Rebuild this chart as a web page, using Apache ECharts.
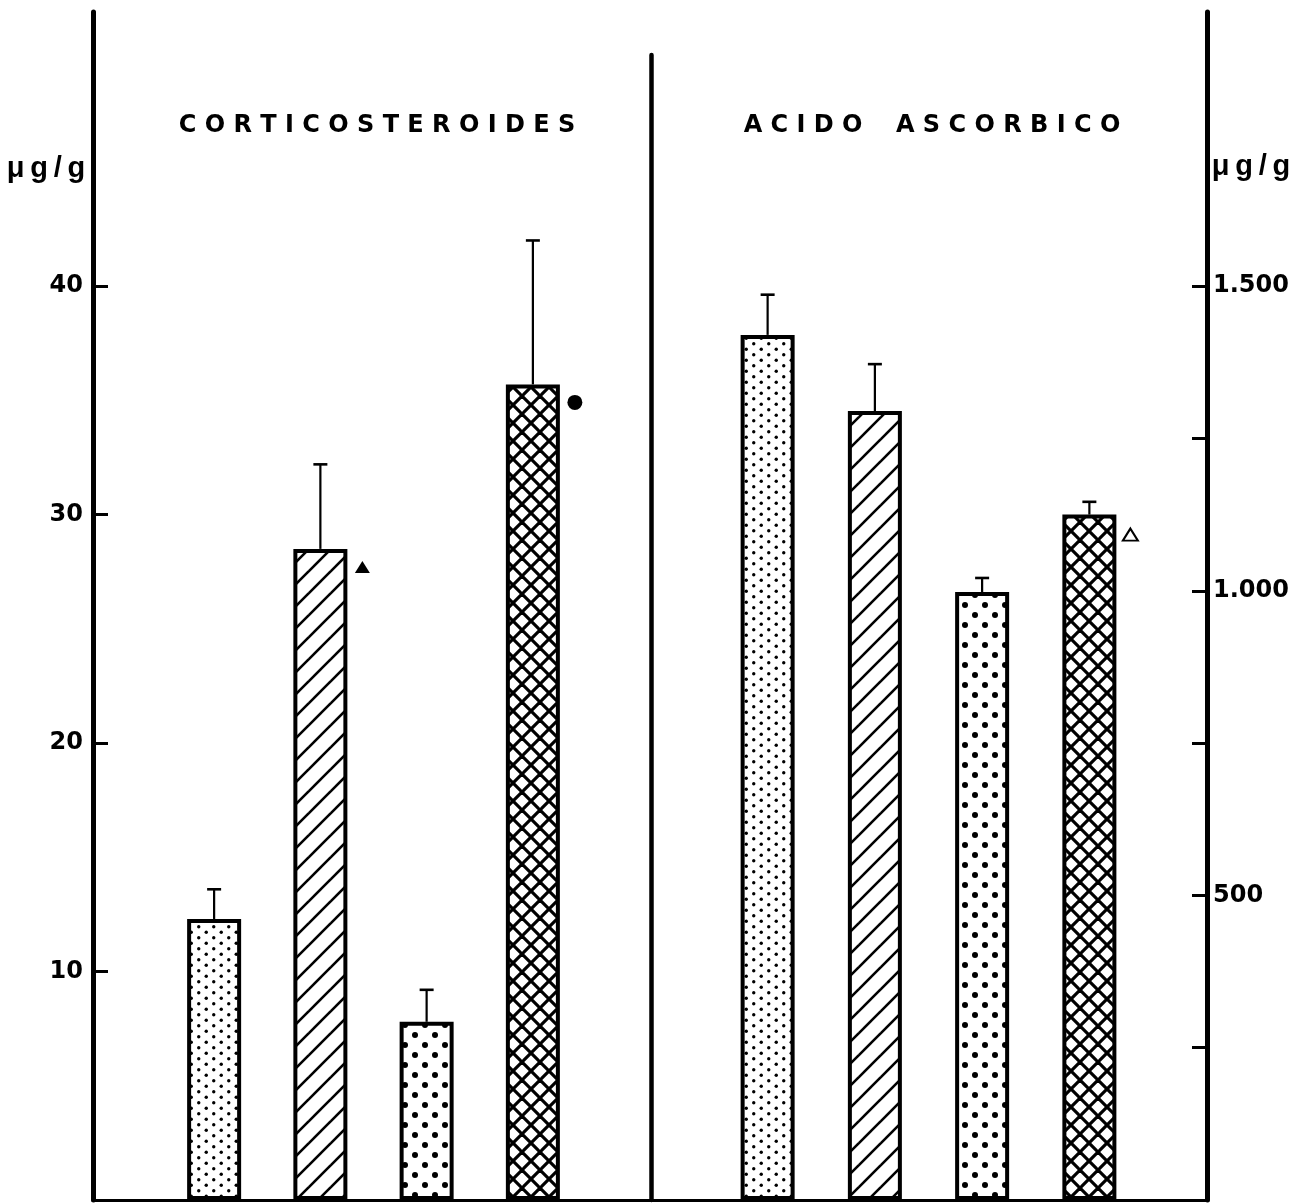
<!DOCTYPE html>
<html><head><meta charset="utf-8">
<script src="https://cdn.jsdelivr.net/npm/echarts@6/dist/echarts.min.js"></script>
<style>html,body{margin:0;padding:0;background:#fff}#c{width:1293px;height:1203px}</style>
</head><body><div id="c"></div>
<script>
// ---- data ----
const groups = ['I', 'II', 'III', 'IV'];
const corticoMean = [12.3, 28.5, 7.8, 35.7];
const corticoSE = [1.3, 3.7, 1.4, 6.3];
const ascorbMean = [1420, 1295, 998, 1125];
const ascorbSE = [66, 77, 23, 21];
const corticoMarks = ['', 'filledTriangle', '', 'filledCircle'];
const ascorbMarks = ['', '', '', 'openTriangle'];
const leftTicks = [10, 20, 30, 40];
const rightTicks = [250, 500, 750, 1000, 1250, 1500];
const rightLabels = [500, 1000, 1500];
const titleLeft = 'CORTICOSTEROIDES';
const titleRight = 'ACIDO ASCORBICO';
const unitLabel = 'μg/g';
const leftMax = 52, rightMax = 1950;

// ---- patterns ----
const groupPattern = ['fineDots', 'hatch', 'bigDots', 'cross'];
function makePattern(kind) {
  const c = document.createElement('canvas');
  let w = 20, h = 20;
  if (kind === 'fineDots') { w = 15; h = 11; }
  if (kind === 'hatch') { w = 22; h = 22; }
  if (kind === 'cross') { w = 18; h = 18; }
  c.width = w; c.height = h;
  const ctx = c.getContext('2d');
  ctx.fillStyle = '#fff'; ctx.fillRect(0, 0, w, h);
  ctx.fillStyle = '#000'; ctx.strokeStyle = '#000';
  const dot = (x, y, r) => { ctx.beginPath(); ctx.arc(x, y, r, 0, Math.PI * 2); ctx.fill(); };
  const seg = (a, b, c2, d) => { ctx.beginPath(); ctx.moveTo(a, b); ctx.lineTo(c2, d); ctx.stroke(); };
  if (kind === 'fineDots') { dot(3.75, 2.75, 1.7); dot(11.25, 8.25, 1.7); }
  if (kind === 'bigDots') { dot(5, 5, 3); dot(15, 15, 3); }
  if (kind === 'hatch') {
    ctx.lineWidth = 2.6;
    seg(-2, h + 2, w + 2, -2); seg(-w / 2 - 2, h / 2 + 2, w / 2 + 2, -h / 2 - 2); seg(w / 2 - 2, h * 1.5 + 2, w * 1.5 + 2, h / 2 - 2);
  }
  if (kind === 'cross') {
    ctx.lineWidth = 3.2;
    seg(-2, h + 2, w + 2, -2); seg(-w / 2 - 2, h / 2 + 2, w / 2 + 2, -h / 2 - 2); seg(w / 2 - 2, h * 1.5 + 2, w * 1.5 + 2, h / 2 - 2);
    seg(-2, -2, w + 2, h + 2); seg(w / 2 - 2, -h / 2 - 2, w * 1.5 + 2, h / 2 + 2); seg(-w / 2 - 2, h / 2 - 2, w / 2 + 2, h * 1.5 + 2);
  }
  return c;
}
const patterns = groupPattern.map(makePattern);

const markStyle = {
  filledTriangle: { symbol: 'triangle', symbolSize: [15, 12], itemStyle: { color: '#000', opacity: 1 } },
  filledCircle: { symbol: 'circle', symbolSize: 15, itemStyle: { color: '#000', opacity: 1 } },
  openTriangle: { symbol: 'triangle', symbolSize: [15, 12], itemStyle: { color: '#fff', borderColor: '#000', borderWidth: 2, opacity: 1 } }
};

const spaced = (t) => t.split(' ').map(wd => Array.from(wd).join(' ')).join('    ');
const dotThousands = (v) => String(v).replace(/\B(?=(\d{3})+(?!\d))/g, '.');

function barData(means) {
  return means.map((v, i) => ({ value: v, itemStyle: { color: { image: patterns[i], repeat: 'repeat' } } }));
}
function errData(means, se) { return means.map((m, i) => [i, m, m + se[i]]); }
function markData(means, marks) {
  const out = [];
  marks.forEach((m, i) => { if (m) out.push(Object.assign({ value: [i, means[i]] }, markStyle[m])); });
  return out;
}
function errRender(params, api) {
  const b = api.coord([api.value(0), api.value(1)]);
  const t = api.coord([api.value(0), api.value(2)]);
  return { type: 'group', children: [
    { type: 'line', shape: { x1: b[0], y1: b[1], x2: t[0], y2: t[1] }, style: { stroke: '#000', lineWidth: 2.2 } },
    { type: 'line', shape: { x1: t[0] - 7, y1: t[1], x2: t[0] + 7, y2: t[1] }, style: { stroke: '#000', lineWidth: 2.6 } }
  ] };
}

const labelFont = { fontFamily: 'DejaVu Sans', fontWeight: 'bold', fontSize: 24, color: '#000' };
const titleStyle = { fontFamily: 'DejaVu Sans', fontWeight: 'bold', fontSize: 24, fill: '#000', align: 'center', verticalAlign: 'middle' };
const unitStyle = { fontFamily: 'Liberation Sans', fontWeight: 'bold', fontSize: 29, fill: '#000', align: 'center', verticalAlign: 'middle' };

const chart = echarts.init(document.getElementById('c'), null, { renderer: 'canvas' });
chart.setOption({
  animation: false,
  backgroundColor: '#fff',
  grid: [
    { left: 93, right: 86, top: 12, bottom: 3 },
    { left: 161, width: 425, top: 12, bottom: 3 },
    { left: 714, width: 429, top: 12, bottom: 3 },
    { left: 651, width: 2, top: 55, bottom: 3 }
  ],
  xAxis: [
    { gridIndex: 0, type: 'value', min: 0, max: 1, axisLine: { show: true, onZero: false, lineStyle: { color: '#000', width: 3 } }, axisTick: { show: false }, axisLabel: { show: false }, splitLine: { show: false } },
    { gridIndex: 1, type: 'category', data: groups, show: false },
    { gridIndex: 2, type: 'category', data: groups, show: false },
    { gridIndex: 3, type: 'value', min: 0, max: 1, show: false }
  ],
  yAxis: [
    { gridIndex: 0, type: 'value', position: 'left', min: 0, max: leftMax,
      axisLine: { show: true, onZero: false, lineStyle: { color: '#000', width: 5 } },
      axisTick: { show: true, inside: true, length: 15, customValues: leftTicks, lineStyle: { color: '#000', width: 3 } },
      axisLabel: Object.assign({ customValues: leftTicks, margin: 10 }, labelFont),
      splitLine: { show: false } },
    { gridIndex: 0, type: 'value', position: 'right', min: 0, max: rightMax,
      axisLine: { show: true, onZero: false, lineStyle: { color: '#000', width: 5 } },
      axisTick: { show: true, inside: true, length: 15, customValues: rightTicks, lineStyle: { color: '#000', width: 3 } },
      axisLabel: Object.assign({ customValues: rightLabels, margin: 6, formatter: dotThousands }, labelFont),
      splitLine: { show: false } },
    { gridIndex: 1, type: 'value', min: 0, max: leftMax, show: false },
    { gridIndex: 2, type: 'value', min: 0, max: rightMax, show: false },
    { gridIndex: 3, type: 'value', min: 0, max: 1, axisLine: { show: true, onZero: false, lineStyle: { color: '#000', width: 4.5 } }, axisTick: { show: false }, axisLabel: { show: false }, splitLine: { show: false } }
  ],
  series: [
    { type: 'bar', xAxisIndex: 1, yAxisIndex: 2, barWidth: 54, data: barData(corticoMean), itemStyle: { borderColor: '#000', borderWidth: 4 } },
    { type: 'bar', xAxisIndex: 2, yAxisIndex: 3, barWidth: 54, data: barData(ascorbMean), itemStyle: { borderColor: '#000', borderWidth: 4 } },
    { type: 'custom', xAxisIndex: 1, yAxisIndex: 2, renderItem: errRender, data: errData(corticoMean, corticoSE), z: 3 },
    { type: 'custom', xAxisIndex: 2, yAxisIndex: 3, renderItem: errRender, data: errData(ascorbMean, ascorbSE), z: 3 },
    { type: 'scatter', xAxisIndex: 1, yAxisIndex: 2, symbolOffset: [42, 18], data: markData(corticoMean, corticoMarks), z: 4 },
    { type: 'scatter', xAxisIndex: 2, yAxisIndex: 3, symbolOffset: [41, 20], data: markData(ascorbMean, ascorbMarks), z: 4 }
  ],
  graphic: [
    { type: 'text', x: 377, y: 126, style: Object.assign({ text: spaced(titleLeft) }, titleStyle) },
    { type: 'text', x: 932, y: 126, style: Object.assign({ text: spaced(titleRight) }, titleStyle) },
    { type: 'text', x: 46, y: 169, style: Object.assign({ text: Array.from(unitLabel).join('\u2009') }, unitStyle) },
    { type: 'text', x: 1251, y: 167, style: Object.assign({ text: Array.from(unitLabel).join('\u2009') }, unitStyle) }
  ]
});
</script>
</body></html>
